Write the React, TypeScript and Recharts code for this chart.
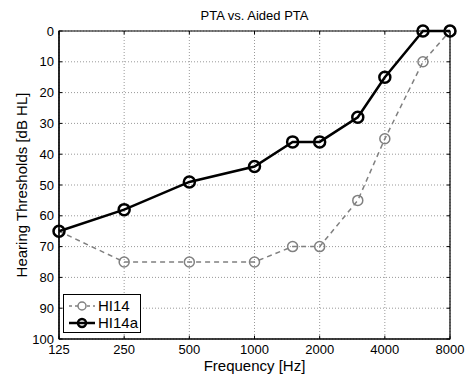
import React from "react";
import {
  LineChart,
  Line,
  XAxis,
  YAxis,
  CartesianGrid,
  ReferenceArea,
  ReferenceLine,
} from "recharts";

const frequencies = [125, 250, 500, 1000, 1500, 2000, 3000, 4000, 6000, 8000];
const hi14 = [65, 75, 75, 75, 70, 70, 55, 35, 10, 0];
const hi14a = [65, 58, 49, 44, 36, 36, 28, 15, 0, 0];
const xTicks = [125, 250, 500, 1000, 2000, 4000, 8000];
const yTicks = [0, 10, 20, 30, 40, 50, 60, 70, 80, 90, 100];
const seriesNames = ["HI14", "HI14a"];

const data = frequencies.map((f, i) => ({ f, HI14: hi14[i], HI14a: hi14a[i] }));

const FONT = "'Liberation Sans', Arial, Helvetica, sans-serif";
const GRAY = "#808080";
// inward tick length, in data units (y) and octaves (x)
const TICK_Y = 1.1;
const TICK_OCT = 0.05;

const seriesStyle: Record<string, { color: string; dash?: string; w: number }> = {
  HI14: { color: GRAY, dash: "3 3", w: 1.5 },
  HI14a: { color: "#000", w: 2.5 },
};

const LegendBox = () => (
  <div
    style={{
      position: "absolute",
      left: 63,
      top: 294,
      width: 78,
      height: 39,
      border: "1px solid #000",
      background: "#fff",
      fontFamily: FONT,
      fontSize: 15,
      color: "#000",
      paddingTop: 2,
      boxSizing: "border-box",
    }}
  >
    {seriesNames.map((name) => {
      const s = seriesStyle[name];
      return (
        <div key={name} style={{ display: "flex", alignItems: "center", height: 17 }}>
          <svg width={28} height={14} style={{ marginLeft: 4 }}>
            <line x1={1} x2={27} y1={7} y2={7} stroke={s.color} strokeWidth={s.w} strokeDasharray={s.dash} />
            <circle cx={14} cy={7} r={4} fill={name === "HI14" ? "#fff" : "none"} stroke={s.color} strokeWidth={s.w} />
          </svg>
          <span style={{ marginLeft: 2 }}>{name}</span>
        </div>
      );
    })}
  </div>
);

export default function App() {
  const xMin = xTicks[0];
  const xMax = xTicks[xTicks.length - 1];
  const k = Math.pow(2, TICK_OCT);
  return (
    <div style={{ position: "absolute", left: 0, top: 0, width: 467, height: 375, background: "#fff" }}>
      <div
        style={{
          position: "absolute",
          left: 59,
          width: 391,
          top: 8,
          textAlign: "center",
          fontFamily: FONT,
          fontSize: 13,
          lineHeight: "15px",
        }}
      >
        PTA vs. Aided PTA
      </div>
      <LineChart
        width={467}
        height={375}
        data={data}
        margin={{ top: 31, right: 17, bottom: 0, left: 0 }}
        style={{ fontFamily: FONT }}
      >
        <CartesianGrid stroke="#999" strokeDasharray="1 2" />
        <XAxis
          dataKey="f"
          type="number"
          scale="log"
          domain={[xMin, xMax]}
          ticks={xTicks}
          interval={0}
          height={36}
          tickLine={false}
          tickSize={4}
          tickMargin={2}
          axisLine={{ stroke: "#000", strokeWidth: 1.2 }}
          tick={{ fill: "#000", fontSize: 13 }}
          label={{ value: "Frequency [Hz]", position: "insideBottom", offset: 4, fill: "#000", fontSize: 15 }}
        />
        <YAxis
          type="number"
          reversed
          domain={[0, 100]}
          ticks={yTicks}
          interval={0}
          width={59}
          tickLine={false}
          tickSize={3}
          tickMargin={2}
          axisLine={{ stroke: "#000", strokeWidth: 1.2 }}
          tick={{ fill: "#000", fontSize: 13 }}
          label={{
            value: "Hearing Thresholds [dB HL]",
            angle: -90,
            position: "center",
            dx: -8,
            fill: "#000",
            fontSize: 15,
          }}
        />
        <ReferenceArea x1={xMin} x2={xMax} y1={0} y2={100} fill="none" stroke="#000" strokeWidth={1.2} />
        {xTicks.map((t) => (
          <ReferenceLine key={`xb${t}`} segment={[{ x: t, y: 100 }, { x: t, y: 100 - TICK_Y }]} stroke="#000" />
        ))}
        {xTicks.map((t) => (
          <ReferenceLine key={`xt${t}`} segment={[{ x: t, y: 0 }, { x: t, y: TICK_Y }]} stroke="#000" />
        ))}
        {yTicks.map((t) => (
          <ReferenceLine key={`yl${t}`} segment={[{ x: xMin, y: t }, { x: xMin * k, y: t }]} stroke="#000" />
        ))}
        {yTicks.map((t) => (
          <ReferenceLine key={`yr${t}`} segment={[{ x: xMax / k, y: t }, { x: xMax, y: t }]} stroke="#000" />
        ))}
        <Line
          dataKey="HI14"
          stroke={GRAY}
          strokeWidth={1.5}
          strokeDasharray="5 4"
          dot={{ r: 5, fill: "none", stroke: GRAY, strokeWidth: 1.5, strokeDasharray: "" }}
          isAnimationActive={false}
        />
        <Line
          dataKey="HI14a"
          stroke="#000"
          strokeWidth={2.5}
          dot={{ r: 5.5, fill: "none", stroke: "#000", strokeWidth: 2.5 }}
          isAnimationActive={false}
        />
      </LineChart>
      <LegendBox />
    </div>
  );
}
